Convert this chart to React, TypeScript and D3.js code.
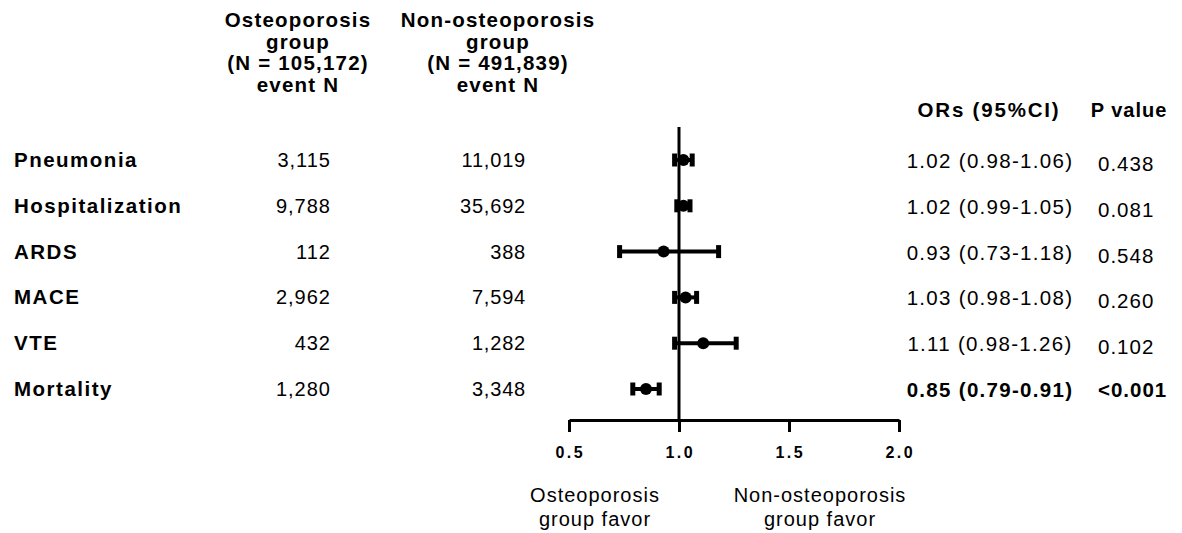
import React, { useEffect, useRef } from "react";
import * as d3 from "d3";

const outcomes = ["Pneumonia", "Hospitalization", "ARDS", "MACE", "VTE", "Mortality"];
const osteoEvents = [3115, 9788, 112, 2962, 432, 1280];
const nonOsteoEvents = [11019, 35692, 388, 7594, 1282, 3348];
const oddsRatios = [1.02, 1.02, 0.93, 1.03, 1.11, 0.85];
const ciLower = [0.98, 0.99, 0.73, 0.98, 0.98, 0.79];
const ciUpper = [1.06, 1.05, 1.18, 1.08, 1.26, 0.91];
const pValues = ["0.438", "0.081", "0.548", "0.260", "0.102", "<0.001"];
const significant = [false, false, false, false, false, true];
const axisTicks = [0.5, 1.0, 1.5, 2.0];

const osteoHeader = ["Osteoporosis", "group", "(N = 105,172)", "event N"];
const nonOsteoHeader = ["Non-osteoporosis", "group", "(N = 491,839)", "event N"];
const favorLeft = ["Osteoporosis", "group favor"];
const favorRight = ["Non-osteoporosis", "group favor"];

const FONT = "'Liberation Sans', Arial, Helvetica, sans-serif";

export default function App() {
  const ref = useRef<SVGSVGElement | null>(null);
  const width = 1182;
  const height = 533;

  useEffect(() => {
    const svg = d3.select(ref.current);
    svg.selectAll("*").remove();
    svg.attr("font-family", FONT).attr("fill", "#000");

    const x = d3.scaleLinear().domain([0.5, 2.0]).range([569, 899]);
    const y = d3.scalePoint<string>().domain(outcomes).range([160, 389]);
    const axisY = 420;
    const fmt = d3.format(",");

    // column headers
    const header = (lines: string[], cx: number) => {
      svg.append("g").selectAll("text")
        .data(lines)
        .enter()
        .append("text")
        .attr("x", cx)
        .attr("y", (d, i) => 27 + i * 21.5)
        .attr("text-anchor", "middle")
        .attr("font-size", 20.5)
        .attr("font-weight", "bold")
        .attr("letter-spacing", 1.2)
        .text(d => d);
    };
    header(osteoHeader, 298);
    header(nonOsteoHeader, 498);

    svg.append("text")
      .attr("x", 989).attr("y", 117)
      .attr("text-anchor", "middle")
      .attr("font-size", 20.5).attr("font-weight", "bold").attr("letter-spacing", 1.8)
      .text("ORs (95%CI)");
    svg.append("text")
      .attr("x", 1129).attr("y", 117)
      .attr("text-anchor", "middle")
      .attr("font-size", 20).attr("font-weight", "bold").attr("letter-spacing", 1)
      .text("P value");

    const rows = svg.append("g").selectAll("g")
      .data(outcomes)
      .enter()
      .append("g")
      .attr("transform", d => `translate(0,${y(d)})`);

    rows.append("text")
      .attr("x", 14).attr("y", 7)
      .attr("font-size", 20.5).attr("font-weight", "bold").attr("letter-spacing", 1.5)
      .text(d => d);

    rows.append("text")
      .attr("x", 331).attr("y", 7)
      .attr("text-anchor", "end")
      .attr("font-size", 20).attr("letter-spacing", 1)
      .text((d, i) => fmt(osteoEvents[i]));

    rows.append("text")
      .attr("x", 526).attr("y", 7)
      .attr("text-anchor", "end")
      .attr("font-size", 20).attr("letter-spacing", 0.8)
      .text((d, i) => fmt(nonOsteoEvents[i]));

    rows.append("text")
      .attr("x", 990).attr("y", 8)
      .attr("text-anchor", "middle")
      .attr("font-size", 20.5).attr("letter-spacing", 1.3)
      .attr("font-weight", (d, i) => significant[i] ? "bold" : "normal")
      .text((d, i) => `${oddsRatios[i].toFixed(2)} (${ciLower[i].toFixed(2)}-${ciUpper[i].toFixed(2)})`);

    rows.append("text")
      .attr("x", 1098).attr("y", (d, i) => significant[i] ? 8 : 11)
      .attr("font-size", 20.5).attr("letter-spacing", 1)
      .attr("font-weight", (d, i) => significant[i] ? "bold" : "normal")
      .text((d, i) => pValues[i]);

    // reference line at OR = 1
    svg.append("line")
      .attr("x1", x(1)).attr("x2", x(1))
      .attr("y1", 127).attr("y2", axisY)
      .attr("stroke", "#000").attr("stroke-width", 3);

    // whiskers
    rows.append("line")
      .attr("x1", (d, i) => x(ciLower[i]))
      .attr("x2", (d, i) => x(ciUpper[i]))
      .attr("stroke", "#000").attr("stroke-width", 4);
    rows.append("line")
      .attr("x1", (d, i) => x(ciLower[i]))
      .attr("x2", (d, i) => x(ciLower[i]))
      .attr("y1", -6.5).attr("y2", 6.5)
      .attr("stroke", "#000").attr("stroke-width", 5);
    rows.append("line")
      .attr("x1", (d, i) => x(ciUpper[i]))
      .attr("x2", (d, i) => x(ciUpper[i]))
      .attr("y1", -6.5).attr("y2", 6.5)
      .attr("stroke", "#000").attr("stroke-width", 5);
    rows.append("circle")
      .attr("cx", (d, i) => x(oddsRatios[i]))
      .attr("r", 6)
      .attr("fill", "#000");

    // x axis (line + ticks from d3, labels drawn separately)
    const axis = svg.append("g")
      .attr("transform", `translate(0,${axisY})`)
      .call(d3.axisBottom(x).tickValues(axisTicks).tickFormat(() => "").tickSize(12).tickSizeOuter(0));
    axis.select(".domain").attr("stroke", "#000").attr("stroke-width", 3);
    axis.selectAll(".tick line").attr("stroke", "#000").attr("stroke-width", 3);

    svg.append("g").selectAll("text")
      .data(axisTicks)
      .enter()
      .append("text")
      .attr("x", d => x(d) + 1.25)
      .attr("y", axisY + 38)
      .attr("text-anchor", "middle")
      .attr("font-size", 16)
      .attr("font-weight", "bold")
      .attr("letter-spacing", 2.5)
      .text(d => d3.format(".1f")(d));

    const favor = (lines: string[], cx: number) => {
      svg.append("g").selectAll("text")
        .data(lines)
        .enter()
        .append("text")
        .attr("x", cx)
        .attr("y", (d, i) => 502 + i * 24)
        .attr("text-anchor", "middle")
        .attr("font-size", 20)
        .attr("letter-spacing", 1)
        .text(d => d);
    };
    favor(favorLeft, 595);
    favor(favorRight, 820);
  }, []);

  return (
    <svg
      ref={ref}
      width={width}
      height={height}
      style={{ position: "absolute", left: 0, top: 0, background: "#fff" }}
    />
  );
}
